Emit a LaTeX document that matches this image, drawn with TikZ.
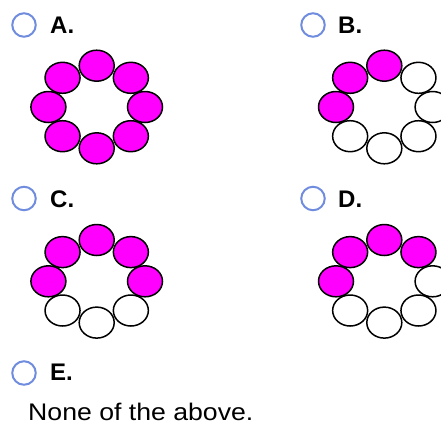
\documentclass[tikz,border=0pt]{standalone}
\usepackage{fontspec}
\setmainfont{Liberation Sans}
\usetikzlibrary{shapes.geometric}
\definecolor{beadpink}{RGB}{255,0,255}
\definecolor{radioblue}{RGB}{112,140,222}

\begin{document}
\begin{tikzpicture}[x=1pt,y=-1pt,
  bead/.style={ellipse, draw=black, line width=1.5pt, minimum width=35pt, minimum height=31pt, inner sep=0pt},
  radio/.style={circle, draw=radioblue, line width=2pt, minimum size=23.5pt, inner sep=0pt},
  optlabel/.style={anchor=base west, inner sep=0pt, font=\fontsize{24}{28}\selectfont\bfseries}]
\useasboundingbox (0,0) rectangle (441,424);
\clip (0,0) rectangle (441,424);

% Options
\node[radio] (rA) at (24,25) {};
\node[optlabel] (lA) at (50,33) {A.};
\node[radio] (rB) at (313,25) {};
\node[optlabel] (lB) at (338,33) {B.};
\node[radio] (rC) at (24,198.5) {};
\node[optlabel] (lC) at (50,207) {C.};
\node[radio] (rD) at (313,198.5) {};
\node[optlabel] (lD) at (338,207) {D.};
\node[radio] (rE) at (24,373) {};
\node[optlabel] (lE) at (50,380) {E.};
\node[anchor=base west, inner sep=0pt, font=\fontsize{24}{28}\selectfont, xscale=1.11] (none) at (28,420) {None of the above.};

% Ring A
\foreach \ang/\col [count=\i] in {90/beadpink,135/beadpink,180/beadpink,225/beadpink,270/beadpink,315/beadpink,0/beadpink,45/beadpink}
  \node[bead, fill=\col] (A\i) at ({96.7+48.3*cos(\ang)},{107-41.3*sin(\ang)}) {};

% Ring B
\foreach \ang/\col [count=\i] in {90/beadpink,135/beadpink,180/beadpink,225/white,270/white,315/white,0/white,45/white}
  \node[bead, fill=\col] (B\i) at ({384.3+48.3*cos(\ang)},{107-41.3*sin(\ang)}) {};

% Ring C
\foreach \ang/\col [count=\i] in {90/beadpink,135/beadpink,180/beadpink,225/white,270/white,315/white,0/beadpink,45/beadpink}
  \node[bead, fill=\col] (C\i) at ({96.7+48.3*cos(\ang)},{281.3-41.3*sin(\ang)}) {};

% Ring D
\foreach \ang/\col [count=\i] in {90/beadpink,135/beadpink,180/beadpink,225/white,270/white,315/white,0/white,45/beadpink}
  \node[bead, fill=\col] (D\i) at ({384.3+48.3*cos(\ang)},{281.3-41.3*sin(\ang)}) {};
\end{tikzpicture}
\end{document}
